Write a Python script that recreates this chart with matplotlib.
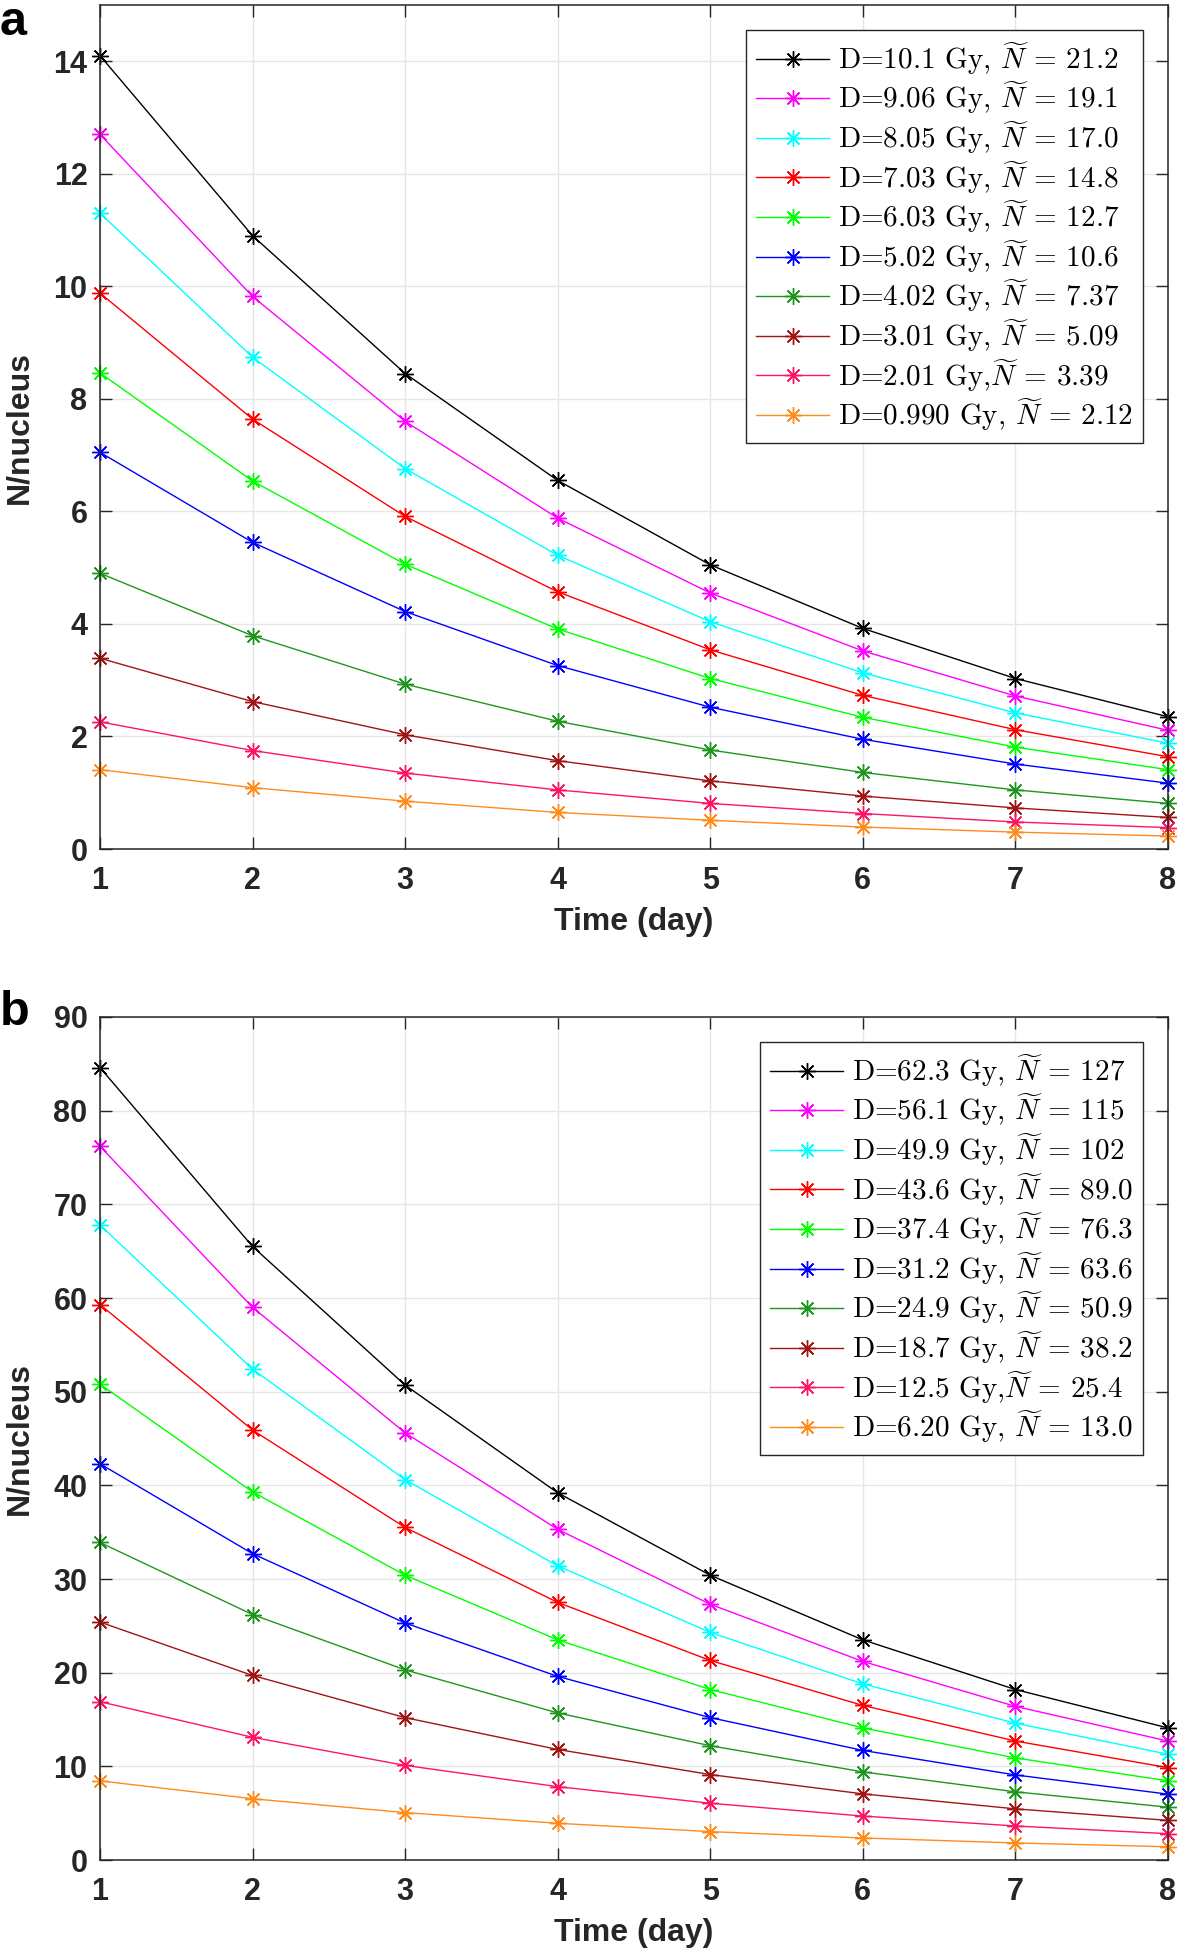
import matplotlib
matplotlib.use('Agg')
import matplotlib.pyplot as plt

plt.rcParams['font.family'] = ['Liberation Sans', 'DejaVu Sans']
plt.rcParams['mathtext.fontset'] = 'cm'

# Time axis
days = [1, 2, 3, 4, 5, 6, 7, 8]

# Colours of the ten dose curves, highest dose first
colors = ['#000000', '#FF00FF', '#00FFFF', '#FF0000', '#00FF00',
          '#0000FF', '#1E961E', '#A01414', '#FF1464', '#FF8C1A']

# Panel a: values
labels_a = [r'D=10.1 Gy, $\widetilde{N}$ = 21.2',
            r'D=9.06 Gy, $\widetilde{N}$ = 19.1',
            r'D=8.05 Gy, $\widetilde{N}$ = 17.0',
            r'D=7.03 Gy, $\widetilde{N}$ = 14.8',
            r'D=6.03 Gy, $\widetilde{N}$ = 12.7',
            r'D=5.02 Gy, $\widetilde{N}$ = 10.6',
            r'D=4.02 Gy, $\widetilde{N}$ = 7.37',
            r'D=3.01 Gy, $\widetilde{N}$ = 5.09',
            r'D=2.01 Gy,$\widetilde{N}$ = 3.39',
            r'D=0.990 Gy, $\widetilde{N}$ = 2.12']
black_a = [14.1, 10.9, 8.45, 6.55, 5.05, 3.92, 3.03, 2.35]
magenta_a = [12.7, 9.82, 7.60, 5.88, 4.55, 3.52, 2.72, 2.11]
cyan_a = [11.3, 8.74, 6.76, 5.22, 4.04, 3.13, 2.42, 1.88]
red_a = [9.88, 7.64, 5.91, 4.57, 3.54, 2.73, 2.12, 1.64]
green_a = [8.46, 6.54, 5.06, 3.91, 3.03, 2.34, 1.81, 1.41]
blue_a = [7.05, 5.45, 4.22, 3.26, 2.52, 1.95, 1.51, 1.17]
dkgreen_a = [4.90, 3.79, 2.93, 2.27, 1.76, 1.36, 1.05, 0.81]
brown_a = [3.39, 2.62, 2.03, 1.57, 1.21, 0.94, 0.73, 0.56]
pink_a = [2.26, 1.75, 1.35, 1.05, 0.81, 0.63, 0.48, 0.38]
orange_a = [1.41, 1.09, 0.85, 0.65, 0.51, 0.39, 0.30, 0.23]
series_a = [black_a, magenta_a, cyan_a, red_a, green_a,
            blue_a, dkgreen_a, brown_a, pink_a, orange_a]

# Panel b
labels_b = [r'D=62.3 Gy, $\widetilde{N}$ = 127',
            r'D=56.1 Gy, $\widetilde{N}$ = 115',
            r'D=49.9 Gy, $\widetilde{N}$ = 102',
            r'D=43.6 Gy, $\widetilde{N}$ = 89.0',
            r'D=37.4 Gy, $\widetilde{N}$ = 76.3',
            r'D=31.2 Gy, $\widetilde{N}$ = 63.6',
            r'D=24.9 Gy, $\widetilde{N}$ = 50.9',
            r'D=18.7 Gy, $\widetilde{N}$ = 38.2',
            r'D=12.5 Gy,$\widetilde{N}$ = 25.4',
            r'D=6.20 Gy, $\widetilde{N}$ = 13.0']
black_b = [84.6, 65.5, 50.7, 39.2, 30.4, 23.5, 18.2, 14.1]
magenta_b = [76.2, 59.0, 45.6, 35.3, 27.3, 21.2, 16.4, 12.7]
cyan_b = [67.8, 52.4, 40.6, 31.4, 24.3, 18.8, 14.6, 11.3]
red_b = [59.3, 45.9, 35.5, 27.5, 21.3, 16.5, 12.7, 9.86]
green_b = [50.8, 39.3, 30.4, 23.5, 18.2, 14.1, 10.9, 8.45]
blue_b = [42.3, 32.7, 25.3, 19.6, 15.2, 11.7, 9.08, 7.03]
dkgreen_b = [33.9, 26.2, 20.3, 15.7, 12.2, 9.41, 7.28, 5.64]
brown_b = [25.4, 19.7, 15.2, 11.8, 9.12, 7.06, 5.46, 4.23]
pink_b = [16.9, 13.1, 10.1, 7.83, 6.06, 4.69, 3.63, 2.81]
orange_b = [8.45, 6.54, 5.06, 3.92, 3.03, 2.35, 1.82, 1.41]
series_b = [black_b, magenta_b, cyan_b, red_b, green_b,
            blue_b, dkgreen_b, brown_b, pink_b, orange_b]

W, H = 1179, 1951
fig = plt.figure(figsize=(W / 100, H / 100), dpi=100)
ax_a = fig.add_axes([100 / W, 1 - 849 / H, 1068 / W, 844 / H])
ax_b = fig.add_axes([100 / W, 1 - 1860 / H, 1068 / W, 843 / H])

axis_col = '#262626'


def draw_panel(ax, series, labels, ymax, ystep, leg_xy):
    for vals, lab, col in zip(series, labels, colors):
        ax.plot(days, vals, color=col, lw=1.0, marker=(8, 2, 0), markersize=12,
                markeredgewidth=1.0, markeredgecolor=col, label=lab, clip_on=False)
    ax.set_xlim(1, 8)
    ax.set_ylim(0, ymax)
    ax.set_xticks(days)
    ax.set_yticks(range(0, ymax + 1, ystep))
    ax.grid(True, color='#E6E6E6', lw=1.0)
    ax.set_axisbelow(True)
    for s in ax.spines.values():
        s.set_color(axis_col)
        s.set_linewidth(1.1)
    ax.tick_params(direction='in', length=8.5, width=1.0, color=axis_col,
                   top=True, right=True, labelsize=22, labelcolor='#262626')
    ax.tick_params(axis='x', pad=12)
    ax.tick_params(axis='y', pad=9)
    for t in ax.get_xticklabels() + ax.get_yticklabels():
        t.set_fontweight('bold')
    ax.set_xlabel('Time (day)', fontsize=23, fontweight='bold', color='#262626', labelpad=8)
    ax.set_ylabel('N/nucleus', fontsize=23, fontweight='bold', color='#262626', labelpad=14)
    leg = ax.legend(loc='upper right', bbox_to_anchor=leg_xy, bbox_transform=fig.transFigure,
                    borderaxespad=0, prop={'family': 'cmr10', 'size': 21},
                    handlelength=2.5, handletextpad=0.3, borderpad=0.35,
                    labelspacing=0.1, fancybox=False, framealpha=1, edgecolor=axis_col)
    leg.get_frame().set_linewidth(1.0)


draw_panel(ax_a, series_a, labels_a, 15, 2, (1143 / W, 1 - 30 / H))
draw_panel(ax_b, series_b, labels_b, 90, 10, (1143 / W, 1 - 1042 / H))

fig.text(0.0, 1 - 35 / H, 'a', fontsize=35, fontweight='bold', ha='left', va='baseline')
fig.text(0.0, 1 - 1025 / H, 'b', fontsize=35, fontweight='bold', ha='left', va='baseline')

fig.savefig('out.png', dpi=100)
